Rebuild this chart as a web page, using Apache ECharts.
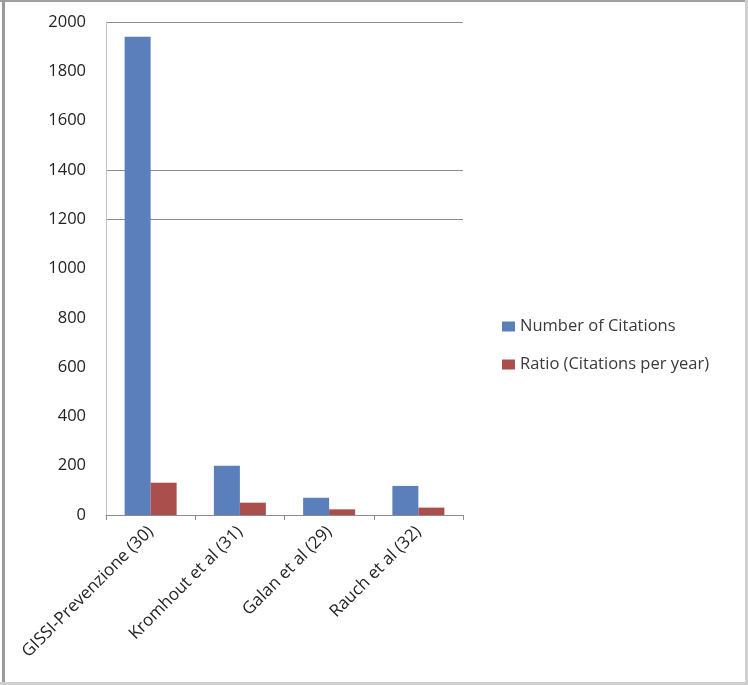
<!DOCTYPE html>
<html>
<head>
<meta charset="utf-8">
<script src="https://cdn.jsdelivr.net/npm/echarts@6/dist/echarts.min.js"></script>
<style>
html,body{margin:0;padding:0;background:#fff;}
#chart{width:748px;height:685px;}
</style>
</head>
<body>
<div id="chart"></div>
<script>
const categories = ['GISSI-Prevenzione (30)', 'Kromhout et al (31)', 'Galan et al (29)', 'Rauch et al (32)'];
const seriesNames = ['Number of Citations', 'Ratio (Citations per year)'];
const citations = [1940, 200, 70, 118];
const ratio = [131, 50, 23, 30];
const yTicks = [0, 200, 400, 600, 800, 1000, 1200, 1400, 1600, 1800, 2000];
const visibleGridLines = [1200, 1400, 2000];

const chart = echarts.init(document.getElementById('chart'), null, {renderer: 'canvas'});
const gridColors = yTicks.map(v => visibleGridLines.indexOf(v) >= 0 ? '#8c8c8c' : 'rgba(0,0,0,0)');
const font = '"Open Sans", Lato, sans-serif';

chart.setOption({
  backgroundColor: '#fff',
  animation: false,
  graphic: [
    {type: 'rect', left: 0, top: 0, shape: {width: 748, height: 2}, style: {fill: '#a0a0a0'}},
    {type: 'rect', left: 2, top: 0, shape: {width: 3, height: 685}, style: {fill: '#9a9a9a'}},
    {type: 'rect', left: 745, top: 0, shape: {width: 3, height: 685}, style: {fill: '#cfcfcf'}},
    {type: 'rect', left: 0, top: 682, shape: {width: 748, height: 3}, style: {fill: '#cfcfcf'}}
  ],
  grid: {left: 106, top: 22, right: 285, bottom: 170, containLabel: false},
  legend: {
    orient: 'vertical',
    left: 497,
    top: 313,
    icon: 'rect',
    itemWidth: 13,
    itemHeight: 10,
    itemGap: 21,
    data: seriesNames,
    textStyle: {fontFamily: font, fontSize: 16.5, color: '#3a3a3a'}
  },
  xAxis: {
    type: 'category',
    data: categories,
    axisLine: {lineStyle: {color: '#8c8c8c', width: 1}},
    axisTick: {show: true, length: 5, lineStyle: {color: '#8c8c8c'}},
    axisLabel: {rotate: 45, margin: 14, fontFamily: font, fontSize: 17, color: '#222', interval: 0}
  },
  yAxis: {
    type: 'value',
    min: 0,
    max: 2000,
    interval: 200,
    axisLine: {show: true, lineStyle: {color: '#c0c0c0'}},
    axisTick: {show: false},
    axisLabel: {margin: 20, fontFamily: font, fontSize: 16.5, color: '#222', formatter: v => String(v)},
    splitLine: {show: true, lineStyle: {color: gridColors, width: 1}}
  },
  series: [
    {name: seriesNames[0], type: 'bar', data: citations, barWidth: 26, barGap: '0%', itemStyle: {color: '#5b7fbb'}},
    {name: seriesNames[1], type: 'bar', data: ratio, barWidth: 26, barGap: '0%', itemStyle: {color: '#ab4f4c'}}
  ]
});
</script>
</body>
</html>
